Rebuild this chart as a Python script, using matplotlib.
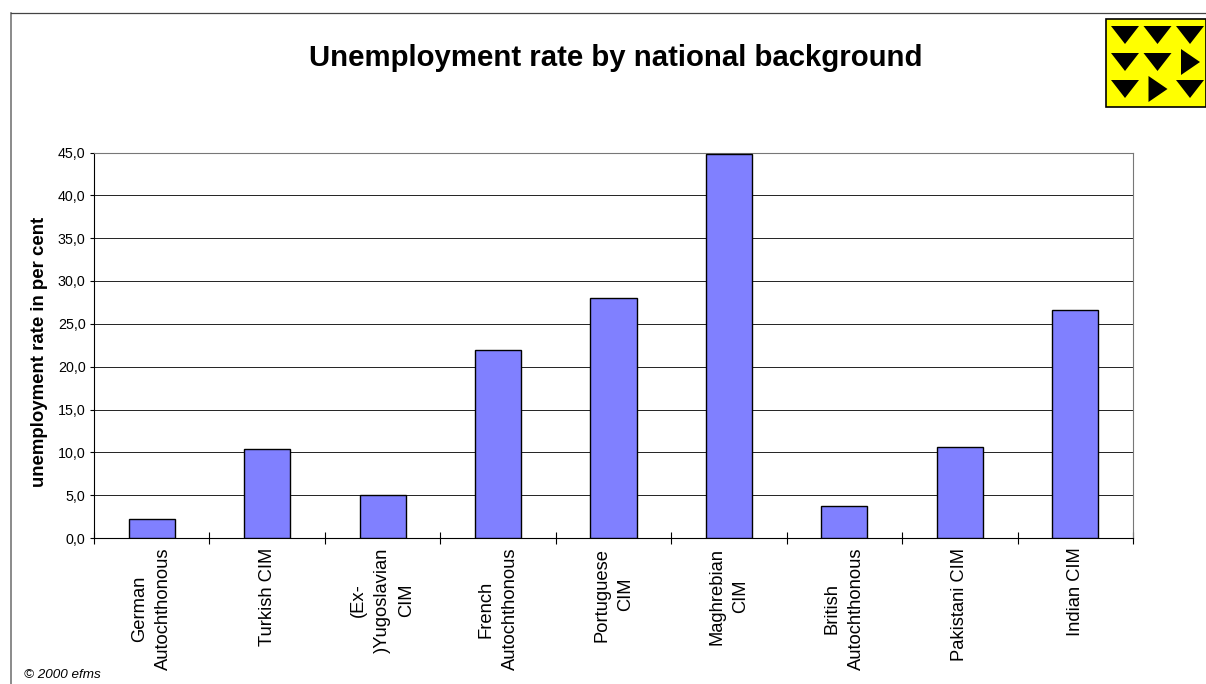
import matplotlib
matplotlib.use('Agg')
import matplotlib.pyplot as plt
from matplotlib.patches import Rectangle, Polygon

categories = ['German\nAutochthonous', 'Turkish CIM', '(Ex-\n)Yugoslavian\nCIM', 'French\nAutochthonous',
              'Portuguese\nCIM', 'Maghrebian\nCIM', 'British\nAutochthonous', 'Pakistani CIM', 'Indian CIM']
rates = [2.2, 10.4, 5.0, 21.9, 28.0, 44.8, 3.7, 10.6, 26.6]
yticks = [0, 5, 10, 15, 20, 25, 30, 35, 40, 45]
ytick_labels = ['0,0', '5,0', '10,0', '15,0', '20,0', '25,0', '30,0', '35,0', '40,0', '45,0']

# which way each arrow in the logo points, row by row
logo_dirs = [['d', 'd', 'd'], ['d', 'd', 'r'], ['d', 'r', 'd']]

W, H = 1206, 684
plt.rcParams['font.family'] = ['Liberation Sans', 'DejaVu Sans']

fig = plt.figure(figsize=(W / 100, H / 100), dpi=100)
ax = fig.add_axes([94 / W, 1 - 538 / H, (1133 - 94) / W, (538 - 152.5) / H])

x = list(range(len(rates)))
ax.bar(x, rates, width=0.4, color='#8080ff', edgecolor='black', linewidth=1, zorder=3)
ax.set_xlim(-0.5, 8.5)
ax.set_ylim(0, 45)
ax.set_yticks(yticks)
ax.set_yticklabels(ytick_labels, fontsize=10.3)
ax.yaxis.grid(True, color='#222222', linewidth=0.7, zorder=0)
ax.set_axisbelow(True)
ax.set_xticks([i - 0.5 for i in range(len(rates) + 1)])
ax.set_xticklabels([])
ax.tick_params(axis='x', direction='inout', length=8, width=0.8)
ax.tick_params(axis='y', direction='out', length=3, width=0.8, pad=3)
for side in ['top', 'right']:
    ax.spines[side].set_linewidth(0.8)
    ax.spines[side].set_color('#777777')

for i, label in enumerate(categories):
    ax.annotate(label, xy=(i, 0), xycoords=('data', 'axes fraction'), xytext=(0, -7),
                textcoords='offset points', rotation=90, ha='center', va='top',
                fontsize=13.2, multialignment='center', linespacing=1.53)

fig.text(37 / W + 3 / W, 1 - 352 / H, 'unemployment rate in per cent', fontsize=13.4, fontweight='bold',
         rotation=90, ha='center', va='center')

fig.text(616 / W, 1 - 58.5 / H, 'Unemployment rate by national background', fontsize=21.2,
         fontweight='bold', ha='center', va='center')
fig.text(24 / W, 1 - 675.5 / H, '© 2000 efms', fontsize=9.7, style='italic', ha='left', va='center')

# outer frame, only top and left are visible in the crop
fig.add_artist(plt.Line2D([10.5 / W, 10.5 / W], [0, 1 - 13 / H], color='#777777', linewidth=1.2))
fig.add_artist(plt.Line2D([10.5 / W, 1], [1 - 13 / H, 1 - 13 / H], color='#444444', linewidth=0.9))

# yellow logo
fig.add_artist(Rectangle((1105.5 / W, 1 - 106.5 / H), 100 / W, 87 / H, transform=fig.transFigure,
                         facecolor='#ffff00', edgecolor='black', linewidth=1.2, zorder=5))
for r, row in enumerate(logo_dirs):
    for c, d in enumerate(row):
        cx = 1125 + c * 32.5
        cy = 35 + r * 27
        if d == 'd':
            pts = [(cx - 14, cy - 9), (cx + 14, cy - 9), (cx, cy + 9)]
        else:
            pts = [(cx - 9, cy - 13), (cx + 10, cy), (cx - 9, cy + 13)]
        fig.add_artist(Polygon([(px / W, 1 - py / H) for px, py in pts], closed=True,
                               transform=fig.transFigure, facecolor='black', edgecolor='none', zorder=6))

fig.savefig('out.png', dpi=100)
